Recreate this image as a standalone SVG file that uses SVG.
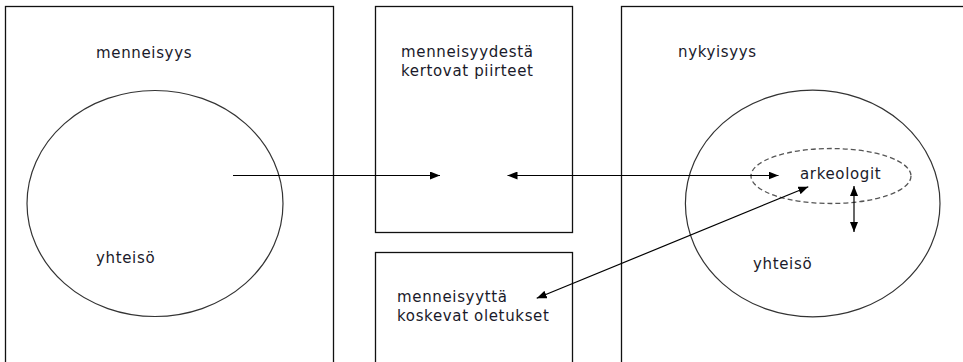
<svg xmlns="http://www.w3.org/2000/svg" width="963" height="362" viewBox="0 0 963 362">
<style>
.box{fill:none;stroke:#111;stroke-width:1.3}
.ell{fill:none;stroke:#333;stroke-width:1.2}
.dash{fill:none;stroke:#555;stroke-width:1.3;stroke-dasharray:5 3}
.lbl{font-family:"DejaVu Sans",Verdana,sans-serif;font-size:15px;letter-spacing:0.65px;fill:#1a1a2a}
.con{fill:none;stroke:#000;stroke-width:1.2}
</style>
<defs>
<marker id="ah" viewBox="0 0 10 8" refX="10" refY="4" markerWidth="10" markerHeight="8" markerUnits="userSpaceOnUse" orient="auto-start-reverse">
<path d="M0,0 L10,4 L0,8 Z" fill="#000"/>
</marker>
</defs>
<rect width="963" height="362" fill="#fff"/>
<g id="past">
<rect class="box" x="5.5" y="6.5" width="328" height="370"/>
<text class="lbl" x="96" y="58">menneisyys</text>
<ellipse class="ell" cx="155" cy="203.5" rx="128" ry="113"/>
<text class="lbl" x="96" y="263">yhteisö</text>
</g>
<g id="traits">
<rect class="box" x="375.5" y="6.5" width="197" height="226"/>
<text class="lbl" x="401" y="57">menneisyydestä</text>
<text class="lbl" x="401" y="75.5">kertovat piirteet</text>
</g>
<g id="assumptions">
<rect class="box" x="375.5" y="252.5" width="197" height="130"/>
<text class="lbl" x="397" y="302">menneisyyttä</text>
<text class="lbl" x="397" y="320.5">koskevat oletukset</text>
</g>
<g id="present">
<rect class="box" x="621.5" y="6.5" width="360" height="370"/>
<text class="lbl" x="678" y="57">nykyisyys</text>
<ellipse class="ell" cx="812.7" cy="203.5" rx="127.3" ry="113.3"/>
<text class="lbl" x="753" y="269">yhteisö</text>
</g>
<g id="archaeologists">
<ellipse class="dash" cx="831" cy="176" rx="80" ry="27.5"/>
<text class="lbl" x="800" y="179">arkeologit</text>
</g>
<g id="connectors">
<line class="con" x1="233" y1="175.5" x2="440" y2="175.5" marker-end="url(#ah)"/>
<line class="con" x1="507.5" y1="175.5" x2="778.5" y2="175.5" marker-start="url(#ah)" marker-end="url(#ah)"/>
<line class="con" x1="536.7" y1="298.3" x2="808.3" y2="186.7" marker-start="url(#ah)" marker-end="url(#ah)"/>
<line class="con" x1="854" y1="186" x2="854" y2="232" marker-start="url(#ah)" marker-end="url(#ah)"/>
</g>
</svg>
